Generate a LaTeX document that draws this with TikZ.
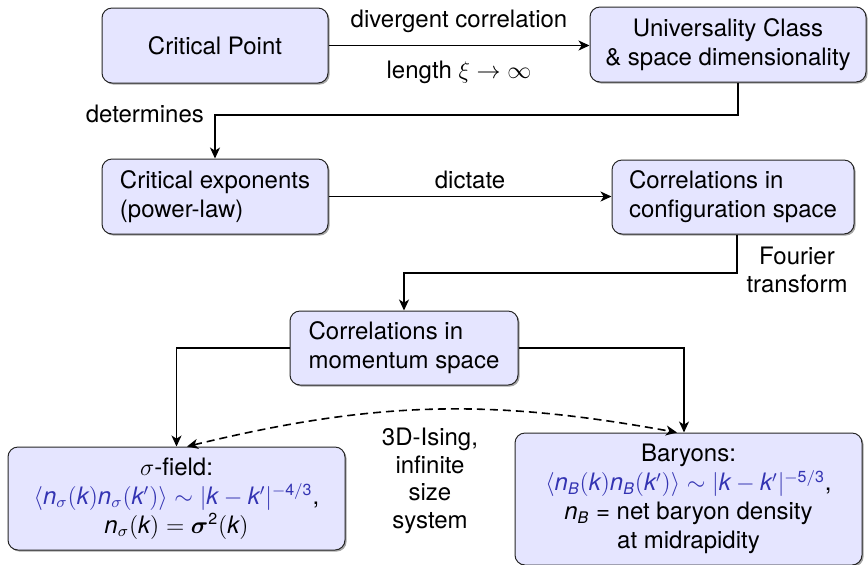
\documentclass[tikz,border=0pt]{standalone}
\usepackage{amsmath}
\usepackage{fontspec}
\setmainfont{TeX Gyre Heros}
\setsansfont{TeX Gyre Heros}
\usetikzlibrary{arrows.meta,shadows,calc}
\definecolor{structblue}{rgb}{0.2,0.2,0.7}
\definecolor{boxfill}{rgb}{0.9,0.9,1}
\newcommand\vi[1]{\mathit{#1}}
\newcommand\vd[1]{\mathrm{#1}}

\begin{document}
\begin{tikzpicture}[x=0.5pt,y=-0.5pt,
  font=\fontsize{12}{14.4}\selectfont,
  box/.style={draw=black!85, line width=0.5pt, fill=boxfill, rounded corners=5pt,
    inner sep=2pt,
    drop shadow={shadow xshift=0.8pt, shadow yshift=-0.8pt, fill=black, opacity=0.35}},
  flow/.style={-{Stealth[length=5.5pt,width=5pt,inset=1.6pt]}, line width=0.8pt},
  link/.style={{Stealth[length=5.5pt,width=5pt,inset=1.6pt]}-{Stealth[length=5.5pt,width=5pt,inset=1.6pt]},
    line width=0.8pt, dash pattern=on 4pt off 2.5pt}]

\useasboundingbox (0,0) rectangle (868,564);

% boxes
\node[box, minimum width=113pt, minimum height=37.5pt] (cp) at (215,45.5) {Critical Point};
\node[box, minimum width=138pt, minimum height=37.5pt, align=center] (uc) at (728,44.5)
  {Universality Class\\\& space dimensionality};
\node[box, minimum width=113pt, minimum height=37.5pt, align=left] (ce) at (215,196.5)
  {Critical exponents\\(power-law)};
\node[box, minimum width=121pt, minimum height=37pt, align=left] (cc) at (733,197)
  {Correlations in\\configuration space};
\node[box, minimum width=114pt, minimum height=37pt, align=left] (cm) at (404,348)
  {Correlations in\\momentum space};
\node[box, minimum width=168.5pt, minimum height=51.5pt, align=center] (sig) at (176.5,498.5)
  {$\sigma$-field:\\
   {\color{structblue}$\langle \vi{n}_\sigma(\vi{k})\vi{n}_\sigma(\vi{k}')\rangle \sim |\vi{k}-\vi{k}'|^{-\vd{4/3}}$},\\
   $\vi{n}_\sigma(\vi{k}) = \boldsymbol{\sigma}^{\vd{2}}(\vi{k})$};
\node[box, minimum width=173.5pt, minimum height=66pt, align=center] (bar) at (688.5,499)
  {Baryons:\\
   {\color{structblue}$\langle \vi{n}_{\vi{B}}(\vi{k})\vi{n}_{\vi{B}}(\vi{k}')\rangle \sim |\vi{k}-\vi{k}'|^{-\vd{5/3}}$},\\
   $\vi{n}_{\vi{B}}$ = net baryon density\\
   at midrapidity};

% bend points of the connectors
\coordinate (bendA) at (738,115);
\coordinate (bendB) at (737,273);
\coordinate (barx) at (684,0);
\coordinate (dsA) at (187,0);
\coordinate (dsB) at (677,0);

% connectors
\draw[flow] (cp.east) -- (cp.east -| uc.west)
  node[midway, above=2.5pt] (lblA) {divergent correlation}
  node[midway, below=4pt] (lblB) {length $\xi \to \infty$};
\draw[flow] (uc.south -| bendA) -- (bendA) -| (ce.north);
\node[anchor=east] (lblC) at (211,114) {determines};
\draw[flow] (ce.east) -- (ce.east -| cc.west)
  node[midway, above] (lblD) {dictate};
\draw[flow] (cc.south -| bendB) -- (bendB) -| (cm.north);
\node[align=center] (lblE) at (797,270) {Fourier\\transform};
\draw[flow] (cm.west) -| (sig.north);
\draw[flow] (cm.east) -| (bar.north -| barx);
\draw[link] (sig.north -| dsA) to[bend left=12] (bar.north -| dsB);
\node[align=center, font=\fontsize{12}{13.75}\selectfont] (lblF) at (430,481)
  {3D-Ising,\\infinite\\size\\system};

\end{tikzpicture}
\end{document}
